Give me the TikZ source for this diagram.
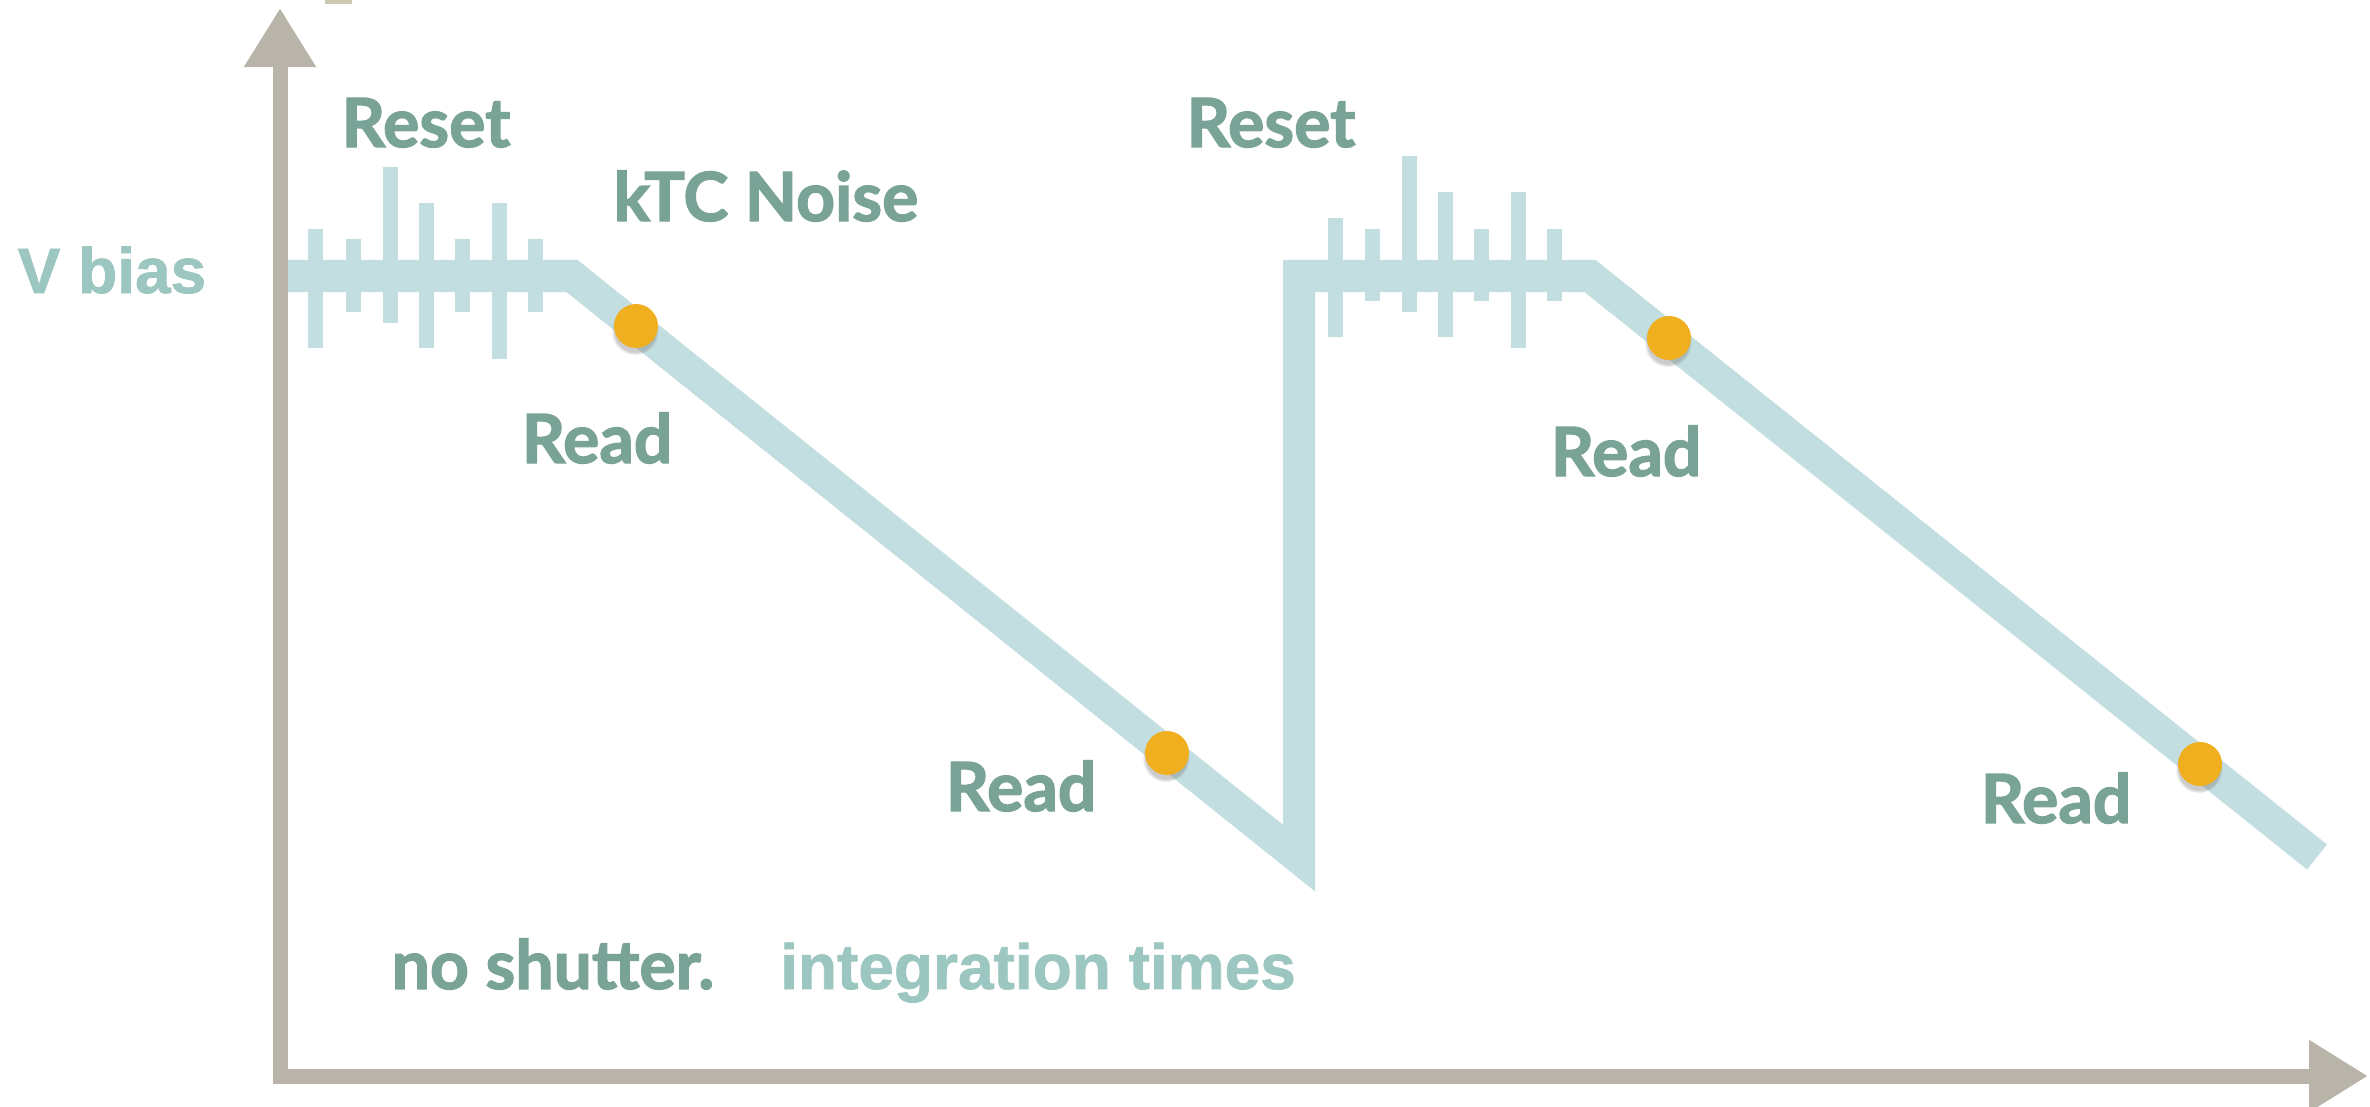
\documentclass[tikz,border=0pt]{standalone}
\usepackage{fontspec}
\setmainfont{Lato}[BoldFeatures={FakeBold=2}]
\newfontfamily\labelfont{Liberation Sans}[BoldFeatures={FakeBold=1.2}]
\usetikzlibrary{arrows.meta,shadows,fadings}
\definecolor{axisgray}{HTML}{B8B4A9}
\definecolor{markbeige}{HTML}{CFC8B0}
\definecolor{signalblue}{HTML}{C3DEE0}
\definecolor{textgreen}{HTML}{7AA398}
\definecolor{textteal}{HTML}{9CC6C0}
\definecolor{dotorange}{HTML}{F0AF1F}
\begin{document}
\begin{tikzpicture}[x=0.01cm,y=-0.01cm,
    phase/.style={text=textgreen,inner sep=0,anchor=base,font=\bfseries\fontsize{19.3}{22}\selectfont},
    axislabel/.style={text=textteal,inner sep=0,anchor=base,font=\labelfont\bfseries\fontsize{18.2}{22}\selectfont},
    readdot/.style={circle,fill=dotorange,minimum size=0.44cm,inner sep=0,
        circular drop shadow={shadow scale=1.08,shadow xshift=-0.01cm,shadow yshift=-0.05cm,opacity=0.4}}]
    \useasboundingbox (0,0) rectangle (2370,1106);
    \fill[markbeige](325,0) rectangle (352,4);
    % axes
    \coordinate (origin) at (280,1076);
    \coordinate (ytip) at (280,8);
    \coordinate (xtip) at (2368,1076);
    \draw[axisgray,line width=0.15cm,line join=miter,
        {Triangle[length=0.59cm,width=0.68cm]}-{Triangle[length=0.59cm,width=0.68cm]}]
        (ytip)--(origin)--(xtip);
    % bias level and integration ramps
    \coordinate (start) at (288,276);
    \coordinate (fall1) at (572,276);
    \coordinate (low1) at (1299,858);
    \coordinate (high2) at (1299,276);
    \coordinate (fall2) at (1590,276);
    \coordinate (low2) at (2317,857);
    \draw[signalblue,line width=0.32cm,line join=miter]
        (start)--(fall1)--(low1)--(high2)--(fall2)--(low2);
    % kTC noise spikes
    \foreach \x/\top/\bot in {315/229/348,353/239/312,390/167/323,426/203/348,
        462/239/312,499/203/359,535/239/312,1335/218/337,1372/229/301,
        1409/156/312,1445/192/337,1481/229/301,1518/192/348,1554/229/301}
        \draw[signalblue,line width=0.15cm](\x,\top)--(\x,\bot);
    % read points
    \node[readdot] (read1) at (636,326) {};
    \node[readdot] (read2) at (1167,753) {};
    \node[readdot] (read3) at (1669,338) {};
    \node[readdot] (read4) at (2200,764) {};
    % labels
    \node[axislabel] (vbias) at (112,293) {V bias};
    \node[phase] (reset1) at (426,147) {Reset};
    \node[phase] (reset2) at (1271,147) {Reset};
    \node[phase] (ktc) at (766,221) {kTC Noise};
    \node[phase] (readlabel1) at (597,463) {Read};
    \node[phase] (readlabel2) at (1021,811) {Read};
    \node[phase] (readlabel3) at (1626,476) {Read};
    \node[phase] (readlabel4) at (2056,823) {Read};
    \node[phase] (shutter) at (553,989) {no shutter.};
    \node[axislabel] (integration) at (1038,989) {integration times};
\end{tikzpicture}
\end{document}
